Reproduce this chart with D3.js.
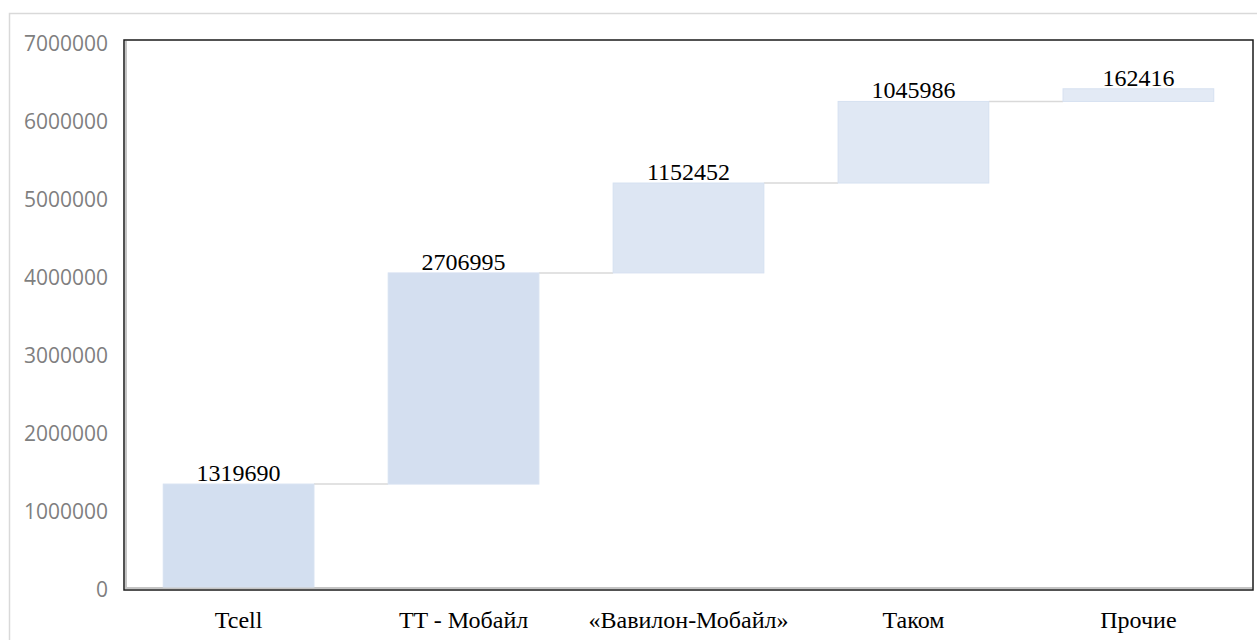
<!DOCTYPE html>
<html>
<head>
<meta charset="utf-8">
<script src="https://cdn.jsdelivr.net/npm/d3@7"></script>
<style>
  html, body { margin: 0; padding: 0; background: #ffffff; }
  svg { display: block; }
</style>
</head>
<body>
<svg id="chart" width="1257" height="640"></svg>
<script>
// Operators and their contributions (waterfall steps)
const categories = ["Tcell", "TT - Мобайл", "«Вавилон-Мобайл»", "Таком", "Прочие"];
const values = [1319690, 2706995, 1152452, 1045986, 162416];
const yTicks = [0, 1000000, 2000000, 3000000, 4000000, 5000000, 6000000, 7000000];

// Bar fills, slightly lighter toward the later steps
const barFills = ["#d3dff0", "#d4dff0", "#dde6f3", "#e0e8f4", "#e3eaf5"];

const svg = d3.select("#chart");
const W = 1257, H = 640;
const frame = { left: 124, top: 40, right: 1253, bottom: 590 };

// Outer container border
svg.append("rect")
  .attr("x", 9.5).attr("y", 13.5)
  .attr("width", W + 10).attr("height", H + 10)
  .attr("fill", "#ffffff")
  .attr("stroke", "#d9d9d9").attr("stroke-width", 1.5);

// Running totals for each step
let acc = 0;
const steps = values.map((v, i) => {
  const start = acc;
  acc += v;
  return { cat: categories[i], value: v, start, end: acc, fill: barFills[i] };
});

const x = d3.scaleBand()
  .domain(categories)
  .range([frame.left + 1, frame.right - 1])
  .paddingInner(0.33)
  .paddingOuter(0.17);

const y = d3.scaleLinear()
  .domain([0, 7000000])
  .range([587, 41]);

// Plot frame
svg.append("rect")
  .attr("x", frame.left).attr("y", frame.top)
  .attr("width", frame.right - frame.left)
  .attr("height", frame.bottom - frame.top)
  .attr("fill", "#ffffff")
  .attr("stroke", "#1a1a1a").attr("stroke-width", 1.5);

// Inner shadow along the left and bottom edges
svg.append("path")
  .attr("d", `M${frame.left + 2},${frame.top + 1} V${frame.bottom - 2} H${frame.right - 1}`)
  .attr("fill", "none")
  .attr("stroke", "#c4c4c4").attr("stroke-width", 2);

// Connector lines between consecutive steps
const connectors = steps.slice(0, -1).map((s, i) => ({ from: s, to: steps[i + 1] }));
svg.append("g").selectAll("line")
  .data(connectors)
  .join("line")
  .attr("x1", d => x(d.from.cat) + x.bandwidth())
  .attr("x2", d => x(d.to.cat))
  .attr("y1", d => y(d.from.end))
  .attr("y2", d => y(d.from.end))
  .attr("stroke", "#d9d9d9").attr("stroke-width", 1.5);

// Bars
svg.append("g").selectAll("rect")
  .data(steps)
  .join("rect")
  .attr("x", d => x(d.cat))
  .attr("y", d => y(d.end))
  .attr("width", x.bandwidth())
  .attr("height", d => y(d.start) - y(d.end))
  .attr("fill", d => d.fill)
  .attr("stroke", "#d6e1f1").attr("stroke-width", 1);

// Value labels
svg.append("g").selectAll("text")
  .data(steps)
  .join("text")
  .attr("x", d => x(d.cat) + x.bandwidth() / 2)
  .attr("y", d => y(d.end) - 3)
  .attr("text-anchor", "middle")
  .attr("font-family", "'Liberation Serif', 'Times New Roman', serif")
  .attr("font-size", "24px")
  .attr("fill", "#000000")
  .text(d => d.value);

// Y axis
const yAxis = svg.append("g")
  .attr("transform", `translate(${frame.left - 14},0)`)
  .call(d3.axisLeft(y).tickValues(yTicks).tickSize(0).tickPadding(2).tickFormat(d3.format("d")));
yAxis.select(".domain").remove();
yAxis.selectAll("text")
  .attr("font-family", "'Open Sans', sans-serif")
  .attr("font-size", "21px")
  .attr("fill", "#7f7f7f")
  .attr("dy", "0.45em");

// X axis labels
const xAxis = svg.append("g")
  .attr("transform", `translate(0,${frame.bottom})`)
  .call(d3.axisBottom(x).tickSize(0).tickPadding(0));
xAxis.select(".domain").remove();
xAxis.selectAll("text")
  .attr("font-family", "'Liberation Serif', 'Times New Roman', serif")
  .attr("font-size", "24px")
  .attr("fill", "#000000")
  .attr("dy", null)
  .attr("y", 38);
</script>
</body>
</html>
